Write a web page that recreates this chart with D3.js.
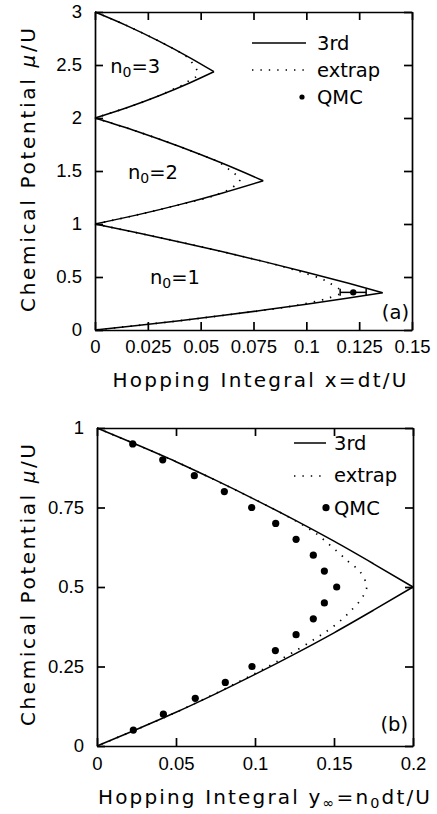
<!DOCTYPE html>
<html>
<head>
<meta charset="utf-8">
<script src="https://cdn.jsdelivr.net/npm/d3@7"></script>
<style>
  body { margin: 0; background: #fff; }
  svg text { font-family: "DejaVu Sans", sans-serif; fill: #000; }
  .axis .tick text { font-family: "Liberation Sans Narrow", "Liberation Sans", sans-serif; font-size: 18.5px; }
  .axis path, .axis line { stroke: #000; stroke-width: 1.7; }
  .line { fill: none; stroke: #000; stroke-width: 1.5; }
  .dotted { fill: none; stroke: #000; stroke-width: 1.7; stroke-dasharray: 1.4,7; }
</style>
</head>
<body>
<div class="chart-container"></div>
<script>
// ---- panel (a) data: [x, mu/U] ----
var upper3 = [[0,3],[0.015,2.872],[0.03,2.728],[0.045,2.568],[0.0563,2.437]];
var lower3 = [[0,2],[0.015,2.097],[0.03,2.208],[0.045,2.333],[0.0563,2.437]];
var upper2 = [[0,2],[0.02,1.873],[0.04,1.731],[0.06,1.575],[0.0796,1.408]];
var lower2 = [[0,1],[0.02,1.086],[0.04,1.183],[0.06,1.291],[0.0796,1.408]];
var upper1 = [[0,1],[0.02,0.918],[0.04,0.831],[0.06,0.74],[0.08,0.645],[0.1,0.545],[0.12,0.441],[0.1361,0.352]];
var lower1 = [[0,0],[0.02,0.042],[0.04,0.087],[0.06,0.136],[0.08,0.188],[0.1,0.243],[0.12,0.302],[0.1361,0.352]];

var extrap3 = [[0,3],[0.015,2.872],[0.03,2.728],[0.038,2.645],[0.0434,2.578],[0.0465,2.506],[0.0484,2.44],
               [0.0478,2.39],[0.045,2.358],[0.0415,2.311],[0.0379,2.28],[0.03,2.208],[0.015,2.097],[0,2]];
var extrap2 = [[0,2],[0.02,1.873],[0.04,1.731],[0.0544,1.62],[0.0584,1.588],[0.062,1.535],[0.0655,1.484],[0.0686,1.421],
               [0.067,1.377],[0.0636,1.327],[0.0592,1.29],[0.0552,1.258],[0.04,1.183],[0.02,1.086],[0,1]];
var extrap1 = [[0,1],[0.04,0.831],[0.08,0.645],[0.0907,0.588],[0.0986,0.541],[0.1077,0.478],[0.112,0.431],[0.1157,0.384],
               [0.1165,0.36],[0.1157,0.34],[0.1115,0.308],[0.1073,0.283],[0.0986,0.245],[0.0899,0.214],[0.06,0.136],[0.04,0.087],[0,0]];

var qmcA = [[0.1222, 0.355]];
var qmcAErr = [[0.116, 0.1283]];

var lobeLabels = ["3", "2", "1"];
var lobeLabelPos = [[0.0072, 2.42], [0.0156, 1.42], [0.026, 0.43]];

var xTicksA = [0, 0.025, 0.05, 0.075, 0.1, 0.125, 0.15];
var xTickLabelsA = ["0", "0.025", "0.05", "0.075", "0.1", "0.125", "0.15"];
var yTicksA = [0, 0.5, 1, 1.5, 2, 2.5, 3];
var yTickLabelsA = ["0", "0.5", "1", "1.5", "2", "2.5", "3"];

// ---- panel (b) data: [y_inf, mu/U] ----
var upperB = [[0,1],[0.025,0.948],[0.05,0.894],[0.075,0.836],[0.1,0.775],[0.125,0.711],[0.15,0.644],[0.175,0.573],[0.2,0.5]];
var lowerB = [[0,0],[0.025,0.052],[0.05,0.106],[0.075,0.164],[0.1,0.225],[0.125,0.289],[0.15,0.356],[0.175,0.427],[0.2,0.5]];
var extrapB = [[0,1],[0.05,0.894],[0.1,0.775],[0.1158,0.735],[0.1285,0.7],[0.139,0.667],[0.1496,0.622],[0.1591,0.58],
               [0.1665,0.548],[0.1707,0.501],[0.1675,0.464],[0.1612,0.428],[0.1559,0.402],[0.148,0.37],[0.138,0.337],
               [0.12,0.283],[0.1,0.228],[0.05,0.106],[0,0]];

var qmcBX  = [0.0226,0.0416,0.0616,0.0806,0.0979,0.1131,0.126,0.1369,0.1439,0.1517,0.1439,0.1369,0.126,0.1129,0.0981,0.0812,0.0622,0.042,0.023];
var qmcBMu = [0.95,0.9,0.85,0.8,0.75,0.7,0.65,0.6,0.55,0.5,0.45,0.4,0.35,0.3,0.25,0.2,0.15,0.1,0.05];

var xTicksB = [0, 0.05, 0.1, 0.15, 0.2];
var xTickLabelsB = ["0", "0.05", "0.1", "0.15", "0.2"];
var yTicksB = [0, 0.25, 0.5, 0.75, 1];
var yTickLabelsB = ["0", "0.25", "0.5", "0.75", "1"];

var svg = d3.select(".chart-container").append("svg")
    .attr("width", 437)
    .attr("height", 814);

function subText(g, parts, size) {
    // parts: [text, isSub, italic]
    parts.forEach(function(p) {
        var ts = g.append("tspan").text(p[0]);
        if (p[1]) ts.attr("baseline-shift", "-30%").attr("font-size", size * 0.72);
        if (p[2]) ts.attr("font-style", "italic");
    });
}

function drawPanel(opt) {
    var x = d3.scaleLinear().domain(opt.xdom).range([0, opt.width]);
    var y = d3.scaleLinear().domain(opt.ydom).range([opt.height, 0]);

    var g = svg.append("g")
        .attr("transform", "translate(" + opt.left + "," + opt.top + ")");

    g.append("g").attr("class", "x axis")
        .attr("transform", "translate(0," + opt.height + ")")
        .call(d3.axisBottom(x).tickValues(opt.xticks).tickSizeInner(-8).tickSizeOuter(0).tickPadding(opt.xpad)
            .tickFormat(function(d, i) { return opt.xlabels[i]; }));
    g.append("g").attr("class", "x axis")
        .call(d3.axisTop(x).tickValues(opt.xticks).tickSizeInner(-8).tickSizeOuter(0).tickFormat(""));
    g.append("g").attr("class", "y axis")
        .call(d3.axisLeft(y).tickValues(opt.yticks).tickSizeInner(-8).tickSizeOuter(0).tickPadding(13)
            .tickFormat(function(d, i) { return opt.ylabels[i]; }));
    g.append("g").attr("class", "y axis")
        .attr("transform", "translate(" + opt.width + ",0)")
        .call(d3.axisRight(y).tickValues(opt.yticks).tickSizeInner(-8).tickSizeOuter(0).tickFormat(""));

    var line = d3.line()
        .x(function(d) { return x(d[0]); })
        .y(function(d) { return y(d[1]); })
        .curve(d3.curveMonotoneX);
    var line2 = d3.line()
        .x(function(d) { return x(d[0]); })
        .y(function(d) { return y(d[1]); })
        .curve(d3.curveCatmullRom.alpha(0.5));

    g.selectAll("path.dotted").data(opt.extrap).enter()
        .append("path").attr("class", "dotted")
        .attr("d", function(d) { return line2(d); });

    g.selectAll("path.line").data(opt.solid).enter()
        .append("path").attr("class", "line")
        .attr("d", function(d) { return line(d); });

    return {g: g, x: x, y: y};
}

// ---------- panel (a) ----------
var pa = drawPanel({
    left: 95, top: 12, width: 317, height: 318,
    xdom: [0, 0.15], ydom: [0, 3], xpad: 10,
    xticks: xTicksA, xlabels: xTickLabelsA, yticks: yTicksA, ylabels: yTickLabelsA,
    solid: [upper3, lower3, upper2, lower2, upper1, lower1],
    extrap: [extrap3, extrap2, extrap1]
});

// QMC point with horizontal error bar
qmcAErr.forEach(function(e, i) {
    var yy = pa.y(qmcA[i][1]);
    pa.g.append("line").attr("class", "line")
        .attr("x1", pa.x(e[0])).attr("x2", pa.x(e[1])).attr("y1", yy).attr("y2", yy);
    [e[0], e[1]].forEach(function(v) {
        pa.g.append("line").attr("class", "line")
            .attr("x1", pa.x(v)).attr("x2", pa.x(v)).attr("y1", yy - 3.5).attr("y2", yy + 3.5);
    });
});
pa.g.selectAll("circle.qmc").data(qmcA).enter()
    .append("circle").attr("class", "qmc")
    .attr("cx", function(d) { return pa.x(d[0]); })
    .attr("cy", function(d) { return pa.y(d[1]); })
    .attr("r", 3.2);

lobeLabels.forEach(function(l, i) {
    var t = pa.g.append("text")
        .attr("x", pa.x(lobeLabelPos[i][0]))
        .attr("y", pa.y(lobeLabelPos[i][1]))
        .attr("font-size", 19.5);
    subText(t, [["n"], ["0", true], ["=" + l]], 19.5);
});

pa.g.append("text").attr("x", 314).attr("y", 307).attr("text-anchor", "end")
    .attr("font-size", 19.5).text("(a)");

// legend (a)
var legA = svg.append("g");
legA.append("line").attr("class", "line").attr("x1", 252).attr("x2", 306).attr("y1", 43).attr("y2", 43);
legA.append("line").attr("class", "dotted").attr("x1", 252).attr("x2", 306).attr("y1", 70).attr("y2", 70);
legA.append("circle").attr("cx", 302).attr("cy", 97).attr("r", 2.6);
legA.selectAll("text").data(["3rd", "extrap", "QMC"]).enter()
    .append("text").attr("x", 317).attr("y", function(d, i) { return 43 + i * 27; })
    .attr("dy", "0.36em").attr("font-size", 19.5).text(function(d) { return d; });

var tA = svg.append("text").attr("x", 259.5).attr("y", 387).attr("text-anchor", "middle")
    .attr("font-size", 20).attr("textLength", 294).attr("lengthAdjust", "spacing");
tA.text("Hopping Integral x=dt/U");

var yA = svg.append("text").attr("transform", "translate(28,170) rotate(-90)")
    .attr("text-anchor", "middle").attr("dy", "0.36em")
    .attr("font-size", 20).attr("textLength", 284).attr("lengthAdjust", "spacing");
subText(yA, [["Chemical Potential "], ["\u03bc", false, true], ["/U"]], 20);

// ---------- panel (b) ----------
var pb = drawPanel({
    left: 97, top: 428, width: 316, height: 318,
    xdom: [0, 0.2], ydom: [0, 1], xpad: 10.5,
    xticks: xTicksB, xlabels: xTickLabelsB, yticks: yTicksB, ylabels: yTickLabelsB,
    solid: [upperB, lowerB],
    extrap: [extrapB]
});

pb.g.selectAll("circle.qmc").data(qmcBX).enter()
    .append("circle").attr("class", "qmc")
    .attr("cx", function(d) { return pb.x(d); })
    .attr("cy", function(d, i) { return pb.y(qmcBMu[i]); })
    .attr("r", 3.6);

pb.g.append("text").attr("x", 311).attr("y", 303).attr("text-anchor", "end")
    .attr("font-size", 19.5).text("(b)");

// legend (b)
var legB = svg.append("g");
legB.append("line").attr("class", "line").attr("x1", 294).attr("x2", 326).attr("y1", 443).attr("y2", 443);
legB.append("line").attr("class", "dotted").attr("x1", 294).attr("x2", 326).attr("y1", 476).attr("y2", 476);
legB.append("circle").attr("cx", 326).attr("cy", 507.7).attr("r", 3.6);
legB.selectAll("text").data(["3rd", "extrap", "QMC"]).enter()
    .append("text").attr("x", 334).attr("y", function(d, i) { return 443 + i * 32.4; })
    .attr("dy", "0.36em").attr("font-size", 19.5).text(function(d) { return d; });

var tB = svg.append("text").attr("x", 264).attr("y", 804).attr("text-anchor", "middle")
    .attr("font-size", 20).attr("textLength", 332).attr("lengthAdjust", "spacing");
subText(tB, [["Hopping Integral y"], ["\u221e", true], ["=n"], ["0", true], ["dt/U"]], 20);

var yB = svg.append("text").attr("transform", "translate(28,585) rotate(-90)")
    .attr("text-anchor", "middle").attr("dy", "0.36em")
    .attr("font-size", 20).attr("textLength", 282).attr("lengthAdjust", "spacing");
subText(yB, [["Chemical Potential "], ["\u03bc", false, true], ["/U"]], 20);
</script>
</body>
</html>
